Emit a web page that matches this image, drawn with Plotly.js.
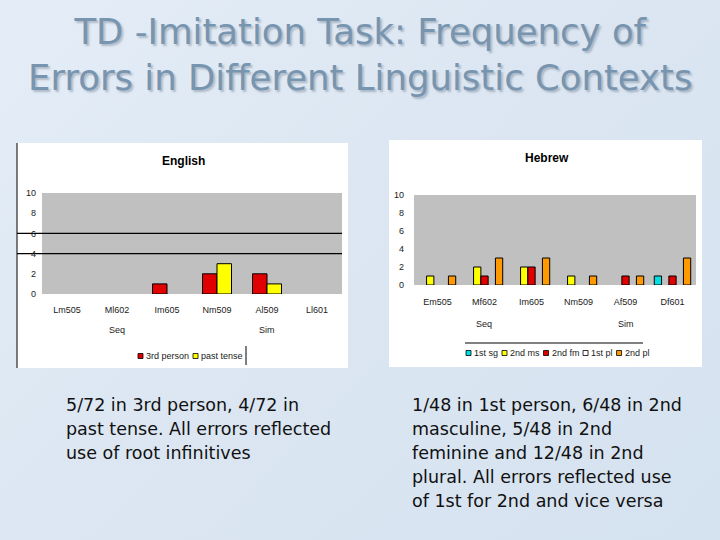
<!DOCTYPE html>
<html><head><meta charset="utf-8">
<script src="https://cdn.plot.ly/plotly-3.0.1.min.js"></script>
<style>
html,body{margin:0;padding:0;width:720px;height:540px;overflow:hidden;
background:linear-gradient(135deg,#e4edf7 0%,#dbe6f2 50%,#d5e2ef 100%);}
#chart{width:720px;height:540px;}
</style></head>
<body><div id="chart"></div>
<script>
// ---- data ----
const titleText = "TD -Imitation Task: Frequency of<br>Errors in Different Linguistic Contexts";
const englishTitle = "English";
const hebrewTitle = "Hebrew";
const englishCategories = ["Lm505","Ml602","Im605","Nm509","Al509","Ll601"];
const englishSeriesNames = ["3rd person","past tense"];
const english3rdPerson = [0,0,1,2,2,0];
const englishPastTense = [0,0,0,3,1,0];
const hebrewCategories = ["Em505","Mf602","Im605","Nm509","Af509","Df601"];
const hebrewSeriesNames = ["1st sg","2nd ms","2nd fm","1st pl","2nd pl"];
const hebrew1stSg = [0,0,0,0,0,1];
const hebrew2ndMs = [1,2,2,1,0,0];
const hebrew2ndFm = [0,1,2,0,1,1];
const hebrew1stPl = [0,0,0,0,0,0];
const hebrew2ndPl = [1,3,3,1,1,3];
const groupLabels = ["Seq","Sim"];
const englishGroupAt = ["Ml602","Al509"];
const hebrewGroupAt = ["Mf602","Af509"];
const yTicks = [0,2,4,6,8,10];
const englishGridAt = [4,6];
const englishNoteLines = ["5/72 in 3rd person, 4/72 in","past tense. All errors reflected","use of root infinitives"];
const hebrewNoteLines = ["1/48 in 1st person, 6/48 in 2nd","masculine, 5/48 in 2nd","feminine and 12/48 in 2nd","plural. All errors reflected use","of 1st for 2nd and vice versa"];

// ---- styles ----
const engColors = ["#e00000","#ffff00"];
const hebColors = ["#00e0e0","#ffff00","#e00000","#ffffff","#ff9900"];
const smallFont = {family:"Liberation Sans, Arial, sans-serif", size:9, color:"#1a1a1a"};
const bodyFont = {family:"DejaVu Sans, sans-serif", size:17.5, color:"#111"};
const W = 720, H = 540;
const px = v => v / W;
const py = v => 1 - v / H;
const hideZero = arr => arr.map(v => v === 0 ? null : v);

const traces = [];
const engW = 0.29;
[english3rdPerson, englishPastTense].forEach((vals, i) => {
  traces.push({type:"bar", x:englishCategories, y:hideZero(vals), name:englishSeriesNames[i],
    xaxis:"x", yaxis:"y", width:engW, offset:-engW + i*engW,
    marker:{color:engColors[i], line:{color:"#000", width:1}}, showlegend:false});
});
const hebW = 0.155;
[hebrew1stSg, hebrew2ndMs, hebrew2ndFm, hebrew1stPl, hebrew2ndPl].forEach((vals, i) => {
  traces.push({type:"bar", x:hebrewCategories, y:hideZero(vals), name:hebrewSeriesNames[i],
    xaxis:"x2", yaxis:"y2", width:hebW, offset:-2.5*hebW + i*hebW,
    marker:{color:hebColors[i], line:{color:"#000", width:1}}, showlegend:false});
});

const shapes = [
  // white panels
  {type:"rect", xref:"paper", yref:"paper", x0:px(17), x1:px(348), y0:py(368), y1:py(143),
   fillcolor:"#ffffff", line:{width:0}, layer:"below"},
  {type:"rect", xref:"paper", yref:"paper", x0:px(389), x1:px(702), y0:py(367), y1:py(140),
   fillcolor:"#ffffff", line:{width:0}, layer:"below"},
  // gray plot areas
  {type:"rect", xref:"x domain", yref:"y domain", x0:0, x1:1, y0:0, y1:1,
   fillcolor:"#c0c0c0", line:{width:0}, layer:"below"},
  {type:"rect", xref:"x2 domain", yref:"y2 domain", x0:0, x1:1, y0:0, y1:1,
   fillcolor:"#c0c0c0", line:{width:0}, layer:"below"},
  // left border of english panel
  {type:"line", xref:"paper", yref:"paper", x0:px(17), x1:px(17), y0:py(368), y1:py(143),
   line:{color:"#000", width:1}},
  // separator next to english legend
  {type:"line", xref:"paper", yref:"paper", x0:px(246), x1:px(246), y0:py(365), y1:py(346),
   line:{color:"#000", width:1}},
  // line above hebrew legend
  {type:"line", xref:"paper", yref:"paper", x0:px(465), x1:px(643), y0:py(343), y1:py(343),
   line:{color:"#000", width:1}}
];
englishGridAt.forEach(g => shapes.push({type:"line", xref:"paper", yref:"y",
  x0:px(17), x1:px(342), y0:g, y1:g, line:{color:"#000", width:1.3}, layer:"below"}));

const annotations = [
  {text:titleText, xref:"paper", yref:"paper", x:0.5, y:py(9), xanchor:"center", yanchor:"top",
   showarrow:false, font:{family:"DejaVu Sans, sans-serif", size:35.5, color:"#7895b0",
   shadow:"2px 2px 2px rgba(60,70,90,0.3)"}},
  {text:"<b>"+englishTitle+"</b>", xref:"paper", yref:"paper", x:px(183), y:py(161), xanchor:"center", yanchor:"middle",
   showarrow:false, font:{family:"Liberation Sans, Arial, sans-serif", size:12, color:"#000"}},
  {text:"<b>"+hebrewTitle+"</b>", xref:"paper", yref:"paper", x:px(547), y:py(158), xanchor:"center", yanchor:"middle",
   showarrow:false, font:{family:"Liberation Sans, Arial, sans-serif", size:12, color:"#000"}}
];
function addNote(lines, x, yFirst) {
  lines.forEach((t, i) => annotations.push({text:t, xref:"paper", yref:"paper", x:px(x), y:py(yFirst + 24*i),
    xanchor:"left", yanchor:"middle", align:"left", showarrow:false, font:bodyFont}));
}
addNote(englishNoteLines, 64, 405);
addNote(hebrewNoteLines, 410, 405);

groupLabels.forEach((g, i) => {
  annotations.push({text:g, xref:"x", yref:"paper", x:englishGroupAt[i], y:py(330), yanchor:"middle",
    showarrow:false, font:smallFont});
  annotations.push({text:g, xref:"x2", yref:"paper", x:hebrewGroupAt[i], y:py(324), yanchor:"middle",
    showarrow:false, font:smallFont});
});

// compact legends built from the series names and colours
const ctx = document.createElement("canvas").getContext("2d");
ctx.font = smallFont.size + "px Liberation Sans";
function addLegend(names, colors, startX, yc) {
  let x = startX;
  names.forEach((n, i) => {
    shapes.push({type:"rect", xref:"paper", yref:"paper", x0:px(x), x1:px(x+5), y0:py(yc+2.5), y1:py(yc-2.5),
      fillcolor:colors[i], line:{color:"#000", width:0.8}});
    annotations.push({text:n, xref:"paper", yref:"paper", x:px(x+7), y:py(yc), xanchor:"left", yanchor:"middle",
      showarrow:false, font:smallFont, xshift:-1});
    x += 7 + ctx.measureText(n).width + 5;
  });
}
addLegend(englishSeriesNames, engColors, 138, 356);
addLegend(hebrewSeriesNames, hebColors, 466, 353);

const axisCommon = {showgrid:false, zeroline:false, showline:false, ticks:"", tickfont:smallFont, fixedrange:true};
const layout = {
  width:W, height:H, margin:{l:0,r:0,t:0,b:0},
  paper_bgcolor:"rgba(0,0,0,0)", plot_bgcolor:"rgba(0,0,0,0)",
  barmode:"overlay", showlegend:false,
  xaxis:Object.assign({}, axisCommon, {domain:[px(42), px(342)], anchor:"y", type:"category",
    categoryarray:englishCategories, ticklabelstandoff:9}),
  yaxis:Object.assign({}, axisCommon, {domain:[py(294), py(193)], anchor:"x", range:[0,10],
    tickvals:yTicks, ticklabelstandoff:5}),
  xaxis2:Object.assign({}, axisCommon, {domain:[px(414), px(696)], anchor:"y2", type:"category",
    categoryarray:hebrewCategories, ticklabelstandoff:10}),
  yaxis2:Object.assign({}, axisCommon, {domain:[py(285), py(195)], anchor:"x2", range:[0,10],
    tickvals:yTicks, ticklabelstandoff:9}),
  shapes:shapes, annotations:annotations
};
Plotly.newPlot("chart", traces, layout, {displayModeBar:false, staticPlot:true});
</script></body></html>
